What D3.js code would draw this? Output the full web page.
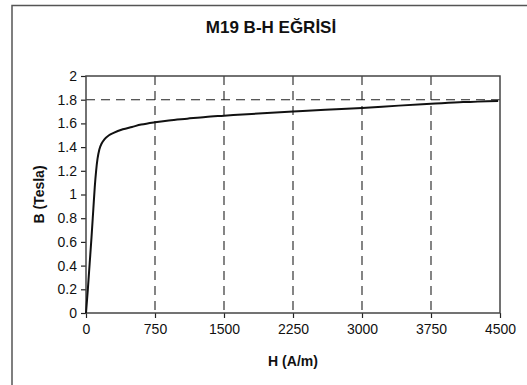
<!DOCTYPE html>
<html><head><meta charset="utf-8">
<script src="https://cdn.jsdelivr.net/npm/d3@7/dist/d3.min.js"></script>
<style>body{margin:0;background:#fff}svg{display:block}text{font-family:"Liberation Sans",Arial,sans-serif;fill:#111}</style>
</head><body><svg id="c" width="527" height="385"></svg>
<script>
const title = "M19 B-H EĞRİSİ";
const xLabel = "H (A/m)";
const yLabel = "B (Tesla)";
const H = [0, 20, 40, 60, 80, 95, 110, 125, 145, 170, 200, 250, 300, 400, 500, 600, 750, 900, 1100, 1300, 1500, 1800, 2250, 2600, 3000, 3400, 3750, 4100, 4480];
const B = [0, 0.2, 0.42, 0.64, 0.88, 1.06, 1.2, 1.3, 1.38, 1.43, 1.465, 1.5, 1.52, 1.55, 1.57, 1.59, 1.61, 1.625, 1.64, 1.655, 1.665, 1.68, 1.70, 1.715, 1.73, 1.75, 1.765, 1.78, 1.79];
const xTicks = [0, 750, 1500, 2250, 3000, 3750, 4500];
const yTicks = [0, 0.2, 0.4, 0.6, 0.8, 1, 1.2, 1.4, 1.6, 1.8, 2];
const xGrid = [750, 1500, 2250, 3000, 3750];
const yRef = [1.8];

const svg = d3.select("#c");
const m = {l: 86, r: 500, t: 76, b: 313};
const x = d3.scaleLinear().domain([0, 4500]).range([m.l, m.r]);
const y = d3.scaleLinear().domain([0, 2]).range([m.b, m.t]);

svg.append("path").attr("d", `M12,385V5.5H527`).attr("fill", "none").attr("stroke", "#555").attr("stroke-width", 1.5);

svg.append("text").attr("x", 271).attr("y", 33).attr("text-anchor", "middle")
  .attr("font-size", 17).attr("font-weight", "bold").text(title);

svg.append("g").selectAll("line").data(xGrid).join("line")
  .attr("x1", d => x(d)).attr("x2", d => x(d)).attr("y1", y(2)).attr("y2", y(0))
  .attr("stroke", "#222").attr("stroke-width", 1.1).attr("stroke-dasharray", "9,6");
svg.append("g").selectAll("line").data(yRef).join("line")
  .attr("x1", x(0)).attr("x2", x(4500)).attr("y1", d => y(d)).attr("y2", d => y(d))
  .attr("stroke", "#222").attr("stroke-width", 1.1).attr("stroke-dasharray", "9,6");

const xa = svg.append("g").attr("transform", `translate(0,${m.b})`)
  .call(d3.axisBottom(x).tickValues(xTicks).tickFormat(d3.format("d")).tickSize(5).tickPadding(6));
const ya = svg.append("g").attr("transform", `translate(${m.l},0)`)
  .call(d3.axisLeft(y).tickValues(yTicks).tickFormat(d => String(d)).tickSize(5).tickPadding(4));
[xa, ya].forEach(g => {
  g.select(".domain").remove();
  g.selectAll("line").attr("stroke", "#222").attr("stroke-width", 1.2);
  g.selectAll("text").attr("font-size", 14).attr("font-family", '"Liberation Sans",Arial,sans-serif').attr("fill", "#111");
});

svg.append("rect").attr("x", m.l).attr("y", m.t).attr("width", m.r - m.l).attr("height", m.b - m.t)
  .attr("fill", "none").attr("stroke", "#444").attr("stroke-width", 1.5);

const pts = H.map((h, i) => [h, B[i]]);
svg.append("path").datum(pts)
  .attr("d", d3.line().x(d => x(d[0])).y(d => y(d[1])).curve(d3.curveMonotoneX))
  .attr("fill", "none").attr("stroke", "#111").attr("stroke-width", 2);

svg.append("text").attr("x", (m.l + m.r) / 2).attr("y", 366).attr("text-anchor", "middle")
  .attr("font-size", 14).attr("font-weight", "bold").text(xLabel);
svg.append("text").attr("transform", `translate(44,${(m.t + m.b) / 2}) rotate(-90)`)
  .attr("text-anchor", "middle").attr("font-size", 14).attr("font-weight", "bold").text(yLabel);
</script></body></html>
